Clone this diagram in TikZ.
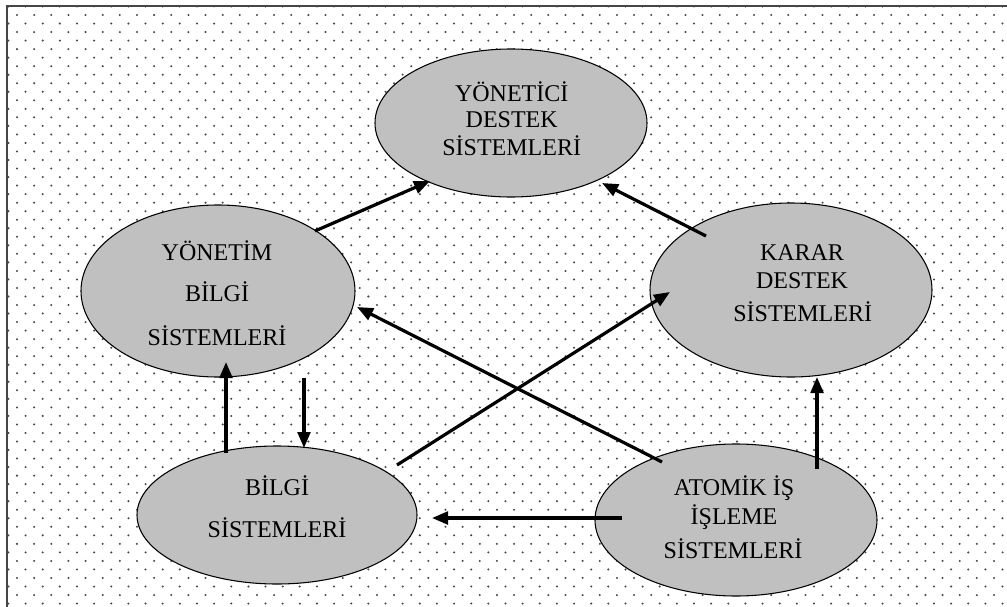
\documentclass[tikz,border=0pt]{standalone}
\usepackage{fontspec}
\setmainfont{Liberation Serif}
\usetikzlibrary{arrows.meta,shapes.geometric,calc}
\definecolor{ovalgray}{RGB}{192,192,192}
\definecolor{dotc}{RGB}{70,70,70}
\definecolor{framec}{RGB}{70,70,70}
\tikzset{
  oval/.style={ellipse, draw=black, line width=0.8pt, fill=ovalgray, inner sep=0pt},
  lbl/.style={anchor=base, inner sep=0pt, font=\fontsize{18pt}{20pt}\selectfont},
  flow/.style={line width=2.4pt, -{Triangle[length=12pt,width=9.5pt]}},
}
\begin{document}
\begin{tikzpicture}[x=0.75pt,y=-0.75pt]
\useasboundingbox (0,0) rectangle (1007,607);
% dotted background
\foreach \j in {0,...,70}{
  \pgfmathsetmacro\yy{6.47+8.53*\j}
  \pgfmathsetmacro\off{mod(\j,2)*8.57}
  \foreach \i in {0,...,58}{
    \fill[dotc] ({8.43+17.14*\i+\off},\yy) circle[radius=0.85pt];
  }
}
% frame
\draw[framec, line width=1.8pt] (7,607) -- (7,6) -- (1007,6);
% ellipses
\node[oval, minimum width=204pt, minimum height=111pt] (ysd) at (511,123) {};
\node[oval, minimum width=205.5pt, minimum height=129pt] (ybs) at (218,291) {};
\node[oval, minimum width=211.5pt, minimum height=130.5pt] (kds) at (791,290) {};
\node[oval, minimum width=210pt, minimum height=103.5pt] (bs) at (277,515) {};
\node[oval, minimum width=211.5pt, minimum height=114pt] (ais) at (736,520) {};
% texts
\node[lbl] (ysd1) at (511.7,101.7) {YÖNETİCİ};
\node[lbl] (ysd2) at (511.7,127.3) {DESTEK};
\node[lbl] (ysd3) at (511.7,155.5) {SİSTEMLERİ};
\node[lbl] (ybs1) at (217,260) {YÖNETİM};
\node[lbl] (ybs2) at (217,301.7) {BİLGİ};
\node[lbl] (ybs3) at (217,345) {SİSTEMLERİ};
\node[lbl] (kds1) at (802,260) {KARAR};
\node[lbl] (kds2) at (802,288.3) {DESTEK};
\node[lbl] (kds3) at (802.7,321.7) {SİSTEMLERİ};
\node[lbl] (bs1) at (277,495.7) {BİLGİ};
\node[lbl] (bs2) at (277,537) {SİSTEMLERİ};
\node[lbl] (ais1) at (734,495) {ATOMİK İŞ};
\node[lbl] (ais2) at (734,524) {İŞLEME};
\node[lbl] (ais3) at (733,558) {SİSTEMLERİ};
% connectors
\draw[flow] ($(ybs)+(97,-60)$) -- ($(ysd)+(-81,58)$);
\draw[flow] ($(kds)+(-85,-54)$) -- ($(ysd)+(91,60)$);
\draw[flow] ($(ais)+(-74,-58)$) -- ($(ybs)+(139,16)$);
\draw[flow] ($(bs)+(120,-50)$) -- ($(kds)+(-121,2)$);
\draw[flow] ($(ais)+(81,-51)$) -- ($(kds)+(26,87)$);
\draw[flow] ($(bs)+(-51,-62)$) -- ($(ybs)+(8,71)$);
\draw[flow] ($(ybs)+(86,87)$) -- ($(bs)+(27,-67)$);
\draw[flow] ($(ais)+(-114,-2)$) -- ($(bs)+(155,3)$);
\end{tikzpicture}
\end{document}
